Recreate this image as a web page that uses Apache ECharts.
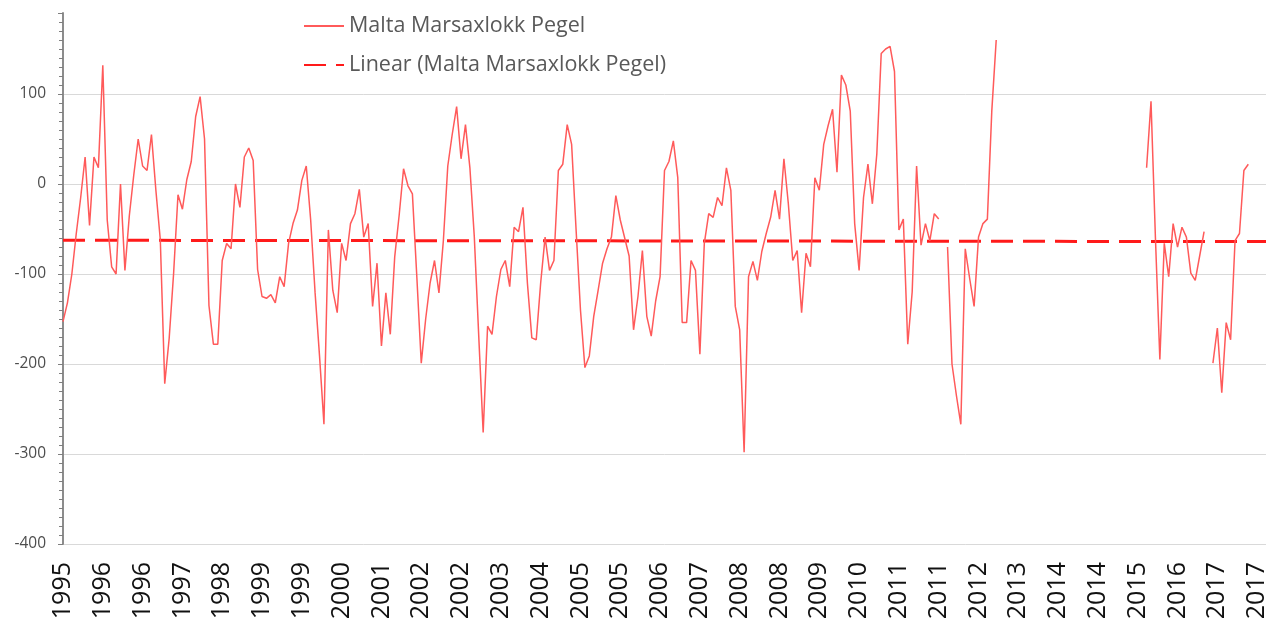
<!DOCTYPE html>
<html>
<head>
<meta charset="utf-8">
<script src="https://cdn.jsdelivr.net/npm/echarts@6/dist/echarts.min.js"></script>
<style>
  html, body { margin: 0; padding: 0; background: #ffffff; }
  #chart { width: 1275px; height: 627px; }
</style>
</head>
<body>
<div id="chart"></div>
<script>
// ---- Data (monthly, starting April 1995) ----
const startYear = 1995;
const startMonth = 4;
const monthCount = 273;

// Year labels shown every 9th month on the x axis
const tickLabels = ['1995','1996','1996','1997','1998','1999','1999','2000','2001','2002','2002',
  '2003','2004','2005','2005','2006','2007','2008','2008','2009','2010','2011','2011','2012',
  '2013','2014','2014','2015','2016','2017','2017'];

// Monthly sea level anomaly (mm); null = missing month
const pegelValues = [
  -153,-132,-100,-55,-15,30,-46,30,18,132,-40,-92,
  -100,0,-96,-35,10,50,20,15,55,-7,-62,-222,
  -172,-100,-12,-28,5,25,75,97,50,-135,-178,-178,
  -85,-66,-72,0,-26,30,40,26,-95,-125,-127,-123,
  -132,-103,-114,-66,-44,-29,4,20,-40,-121,-191,-267,
  -51,-118,-143,-66,-85,-44,-33,-6,-59,-44,-136,-88,
  -180,-121,-167,-81,-35,17,-2,-11,-103,-199,-150,-110,
  -85,-121,-63,20,55,86,28,66,18,-59,-169,-276,
  -158,-167,-125,-95,-85,-114,-48,-53,-26,-110,-171,-173,
  -110,-59,-96,-85,15,22,66,44,-50,-140,-204,-191,
  -147,-118,-88,-72,-59,-13,-40,-60,-80,-162,-125,-74,
  -147,-169,-130,-103,15,25,48,7,-154,-154,-85,-96,
  -189,-66,-33,-37,-15,-24,18,-7,-136,-162,-298,-103,
  -86,-107,-75,-55,-37,-7,-39,28,-22,-85,-74,-143,
  -77,-92,7,-7,44,65,83,13,121,110,81,-44,
  -96,-15,22,-22,33,145,150,153,125,-51,-39,-178,
  -120,20,-68,-44,-63,-33,-39,null,-70,-200,-235,-267,
  -72,-105,-136,-59,-44,-39,81,160,null,null,null,null,
  null,null,null,null,null,null,null,null,null,null,null,null,
  null,null,null,null,null,null,null,null,null,null,null,null,
  null,null,null,null,null,18,92,-60,-195,-66,-103,-44,
  -70,-48,-59,-99,-107,-80,-53,null,-199,-160,-232,-154,
  -173,-63,-55,15,22,null,null,null,null
];

// Linear trend line end values
const trendStart = -62.5;
const trendEnd = -64;

// Month categories
const categories = [];
for (let i = 0; i < monthCount; i++) {
  const m = startMonth - 1 + i;
  const y = startYear + Math.floor(m / 12);
  const mm = (m % 12) + 1;
  categories.push(y + '-' + (mm < 10 ? '0' + mm : mm));
}

const seriesName = 'Malta Marsaxlokk Pegel';
const trendName = 'Linear (Malta Marsaxlokk Pegel)';

const chart = echarts.init(document.getElementById('chart'), null, { renderer: 'canvas' });
chart.setOption({
  animation: false,
  backgroundColor: '#ffffff',
  grid: { left: 63, right: 9, top: 13, bottom: 83, containLabel: false },
  legend: {
    orient: 'vertical',
    left: 303,
    top: 14,
    padding: 0,
    itemWidth: 40,
    itemHeight: 14,
    itemGap: 15,
    itemStyle: { opacity: 0 },
    textStyle: { fontFamily: 'Open Sans', fontSize: 21.5, color: '#595959', lineHeight: 24 },
    data: [
      { name: seriesName },
      { name: trendName }
    ]
  },
  xAxis: {
    type: 'category',
    data: categories,
    boundaryGap: false,
    axisLine: { show: false },
    axisTick: { show: false },
    splitLine: { show: false },
    axisLabel: {
      interval: 8,
      rotate: 90,
      margin: 18,
      fontFamily: 'Open Sans',
      fontSize: 25,
      color: '#111111',
      formatter: function (v, idx) { return tickLabels[Math.round(idx / 9)] || ''; }
    }
  },
  yAxis: {
    type: 'value',
    min: -400,
    max: 190,
    interval: 100,
    axisLine: { show: true, lineStyle: { color: '#8c8c8c', width: 2 } },
    axisTick: { show: true, length: 5, lineStyle: { color: '#7f7f7f' } },
    minorTick: { show: true, splitNumber: 10, length: 4, lineStyle: { color: '#7f7f7f' } },
    axisLabel: { showMaxLabel: false, margin: 17, fontFamily: 'Open Sans', fontSize: 15.5, color: '#4d4d4d' },
    splitLine: { show: true, showMaxLine: false, lineStyle: { color: '#d9d9d9', width: 1 } }
  },
  series: [
    {
      name: seriesName,
      type: 'line',
      data: pegelValues,
      symbol: 'none',
      connectNulls: false,
      lineStyle: { color: '#ff5a5a', width: 1.5 },
      itemStyle: { color: '#ff5a5a' },
      z: 3
    },
    {
      name: trendName,
      type: 'line',
      data: [[categories[0], trendStart], [categories[monthCount - 1], trendEnd]],
      symbol: 'none',
      lineStyle: { color: '#ff1a1a', width: 3, type: [22, 10] },
      itemStyle: { color: '#ff1a1a' },
      z: 2
    }
  ]
});
</script>
</body>
</html>
